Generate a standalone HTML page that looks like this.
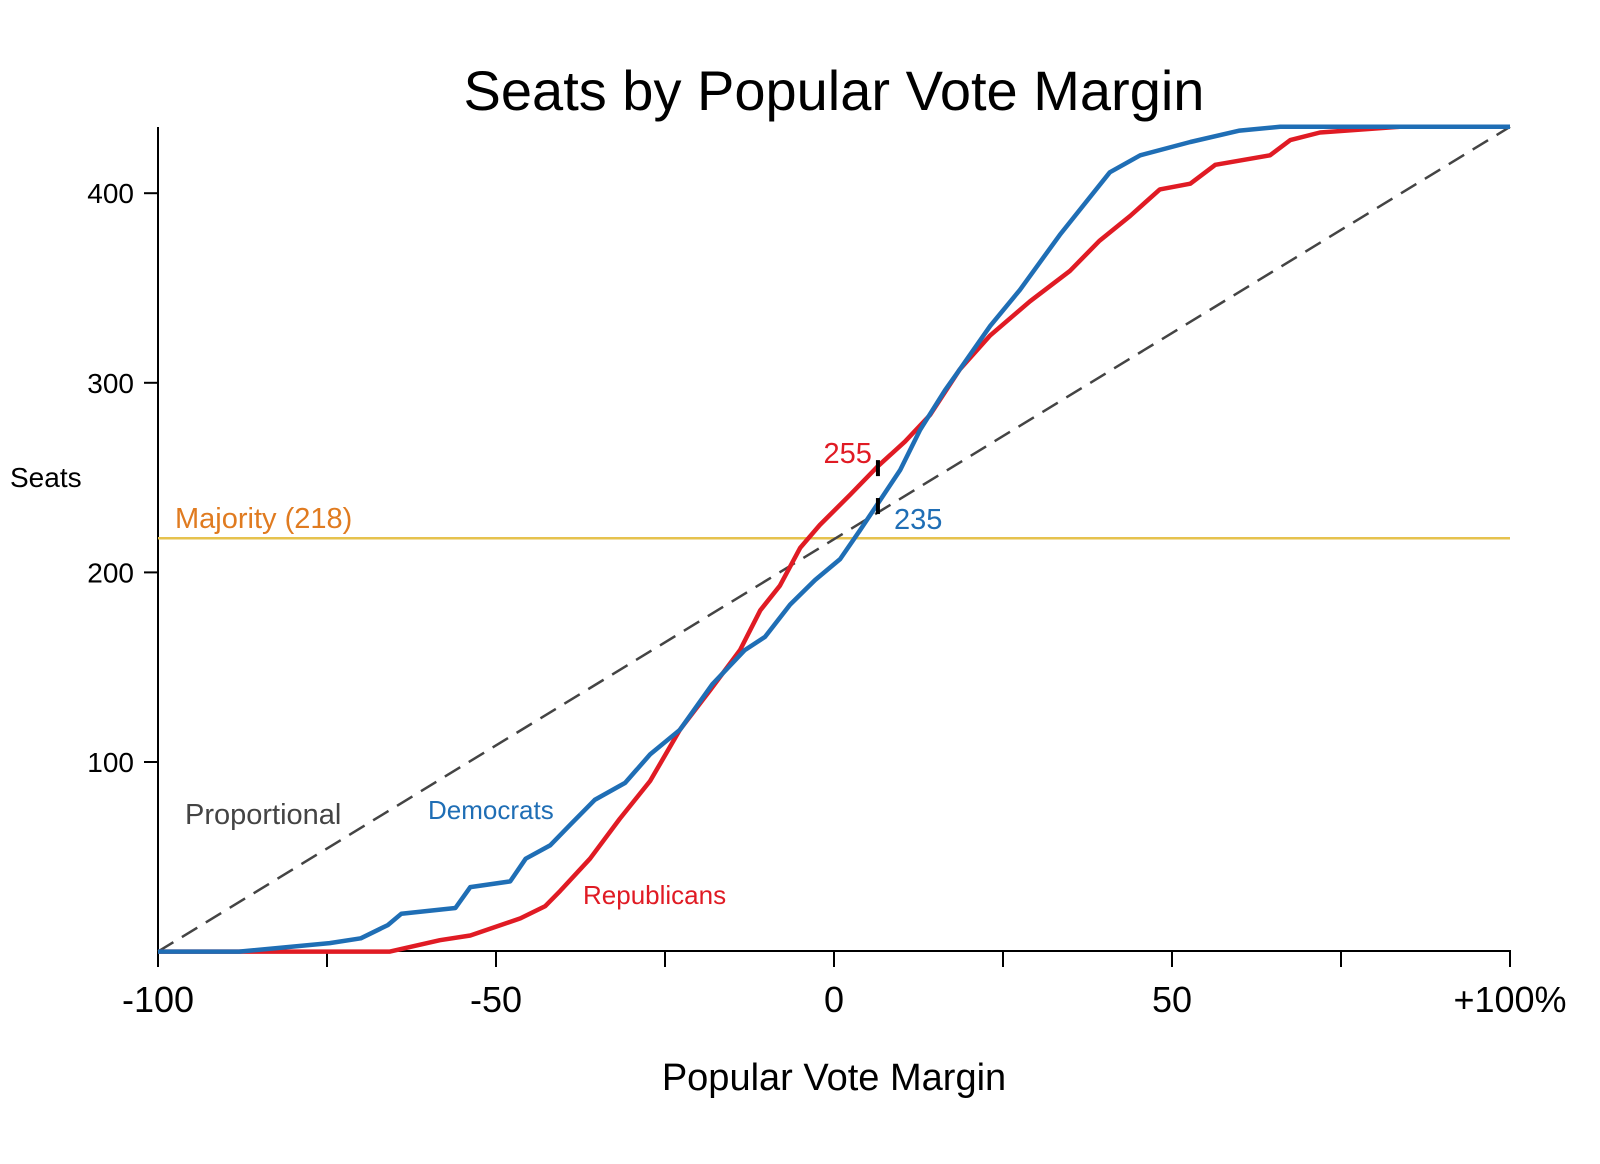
<!DOCTYPE html>
<html><head><meta charset="utf-8"><style>
body{margin:0;background:#fff;}
svg{display:block;font-family:"Liberation Sans",Arial,sans-serif;}
</style></head><body>
<svg id="chart" width="1600" height="1164" viewBox="0 0 1600 1164">
<rect width="1600" height="1164" fill="#fff"/>
<text x="834" y="110" font-size="56" text-anchor="middle" fill="#000">Seats by Popular Vote Margin</text>
<g id="axes"></g>
<g id="marks"></g>
</svg>
<script>
const xTicks = [-100,-75,-50,-25,0,25,50,75,100];
const xTickLabels = {"-100":"-100","-50":"-50","0":"0","50":"50","100":"+100%"};
const yTicks = [100,200,300,400];
const demX = [-100,-88,-74.6,-70,-66,-64,-56,-53.8,-47.9,-45.6,-42,-39,-35.4,-30.9,-27.2,-22.8,-18,-13.2,-10.2,-6.5,-2.8,0.9,3.8,6.8,9.8,12.7,16.4,18.6,23.1,27.5,33.4,40.8,45.3,52.7,60,66,100];
const demY = [0,0,4.5,7,14,20,23,34,37,49,56,67,80,89,104,117,141,159,166,183,196,207,222,238,254,275,296,307,330,349,378,411,420,427,433,435,435];
const repX = [-100,-65.7,-58.3,-53.8,-46.4,-42.7,-40.5,-36.1,-31.7,-27.2,-22.8,-18.3,-13.9,-10.9,-8,-5,-2.1,2.4,6.5,10.5,14.2,18.6,23.1,29,34.9,39.3,43.8,48.2,52.7,56.4,64.5,67.5,71.9,83.7,100];
const repY = [0,0,6,8.5,17.5,24,32,49,70,90,117,138,159,180,193,213,225,241,256,269,283,307,325,343,359,375,388,402,405,415,420,428,432,435,435];
const majority = 218;
const totalSeats = 435;
const markers = [{x:6.5,y:255,label:"255",color:"#e01b24"},{x:6.5,y:235,label:"235",color:"#1f6eb5"}];

const NS="http://www.w3.org/2000/svg";
const X=v=>834+v*6.76;
const Y=v=>951.6-v*1.896;
function mk(tag,attrs,parent,text){const e=document.createElementNS(NS,tag);for(const k in attrs)e.setAttribute(k,attrs[k]);if(text!=null)e.textContent=text;parent.appendChild(e);return e;}
const axes=document.getElementById('axes'), marks=document.getElementById('marks');

let e=mk('line',{x1:158,y1:127,x2:158,y2:952,stroke:'#000','stroke-width':2},axes);


e=mk('line',{x1:157,y1:951,x2:1511,y2:951,stroke:'#000','stroke-width':2},axes);


xTicks.forEach(t=>{
  let l=mk('line',{x1:X(t),y1:951,x2:X(t),y2:967,stroke:'#000','stroke-width':2},axes);
  
  
  if(xTickLabels[String(t)]){
    let tx=mk('text',{x:X(t),y:1012,'font-size':36,'text-anchor':'middle',fill:'#000'},axes,xTickLabels[String(t)]);
    
    
  }
});
yTicks.forEach(t=>{
  let l=mk('line',{x1:144,y1:Y(t),x2:158,y2:Y(t),stroke:'#000','stroke-width':2},axes);
  
  
  let tx=mk('text',{x:134,y:Y(t)+10,'font-size':28,'text-anchor':'end',fill:'#000'},axes,String(t));
  
  
});
e=mk('text',{x:10,y:487,'font-size':28,fill:'#000'},axes,'Seats');


e=mk('text',{x:834,y:1090,'font-size':38,'text-anchor':'middle',fill:'#000'},axes,'Popular Vote Margin');



e=mk('line',{x1:X(-100),y1:Y(majority),x2:X(100),y2:Y(majority),stroke:'#e6c24e','stroke-width':2.5},marks);


e=mk('text',{x:175,y:528,'font-size':29,fill:'#e07b20'},marks,'Majority ('+majority+')');


e=mk('line',{x1:X(-100),y1:Y(0),x2:X(100),y2:Y(totalSeats),stroke:'#444','stroke-width':2.5,'stroke-dasharray':'18 10'},marks);



function linePath(xs,ys){return xs.map((x,i)=>(i?'L':'M')+X(x).toFixed(1)+','+Y(ys[i]).toFixed(1)).join(' ');}
e=mk('path',{d:linePath(repX,repY),fill:'none',stroke:'#e01b24','stroke-width':4.5,'stroke-linejoin':'round'},marks);


e=mk('path',{d:linePath(demX,demY),fill:'none',stroke:'#1f6eb5','stroke-width':4.5,'stroke-linejoin':'round'},marks);



markers.forEach((m,i)=>{
  let l=mk('line',{x1:X(m.x),y1:Y(m.y)-8,x2:X(m.x),y2:Y(m.y)+8,stroke:'#000','stroke-width':4},marks);
  
  
  let t=i==0?mk('text',{x:X(m.x)-6,y:Y(m.y)-5,'font-size':29,'text-anchor':'end',fill:m.color},marks,m.label)
            :mk('text',{x:X(m.x)+16,y:Y(m.y)+23,'font-size':29,fill:m.color},marks,m.label);
  
  
});
e=mk('text',{x:185,y:824,'font-size':29,fill:'#444'},marks,'Proportional');


e=mk('text',{x:428,y:819,'font-size':26,fill:'#1f6eb5'},marks,'Democrats');


e=mk('text',{x:583,y:904,'font-size':26,fill:'#e01b24'},marks,'Republicans');


</script>
</body></html>
